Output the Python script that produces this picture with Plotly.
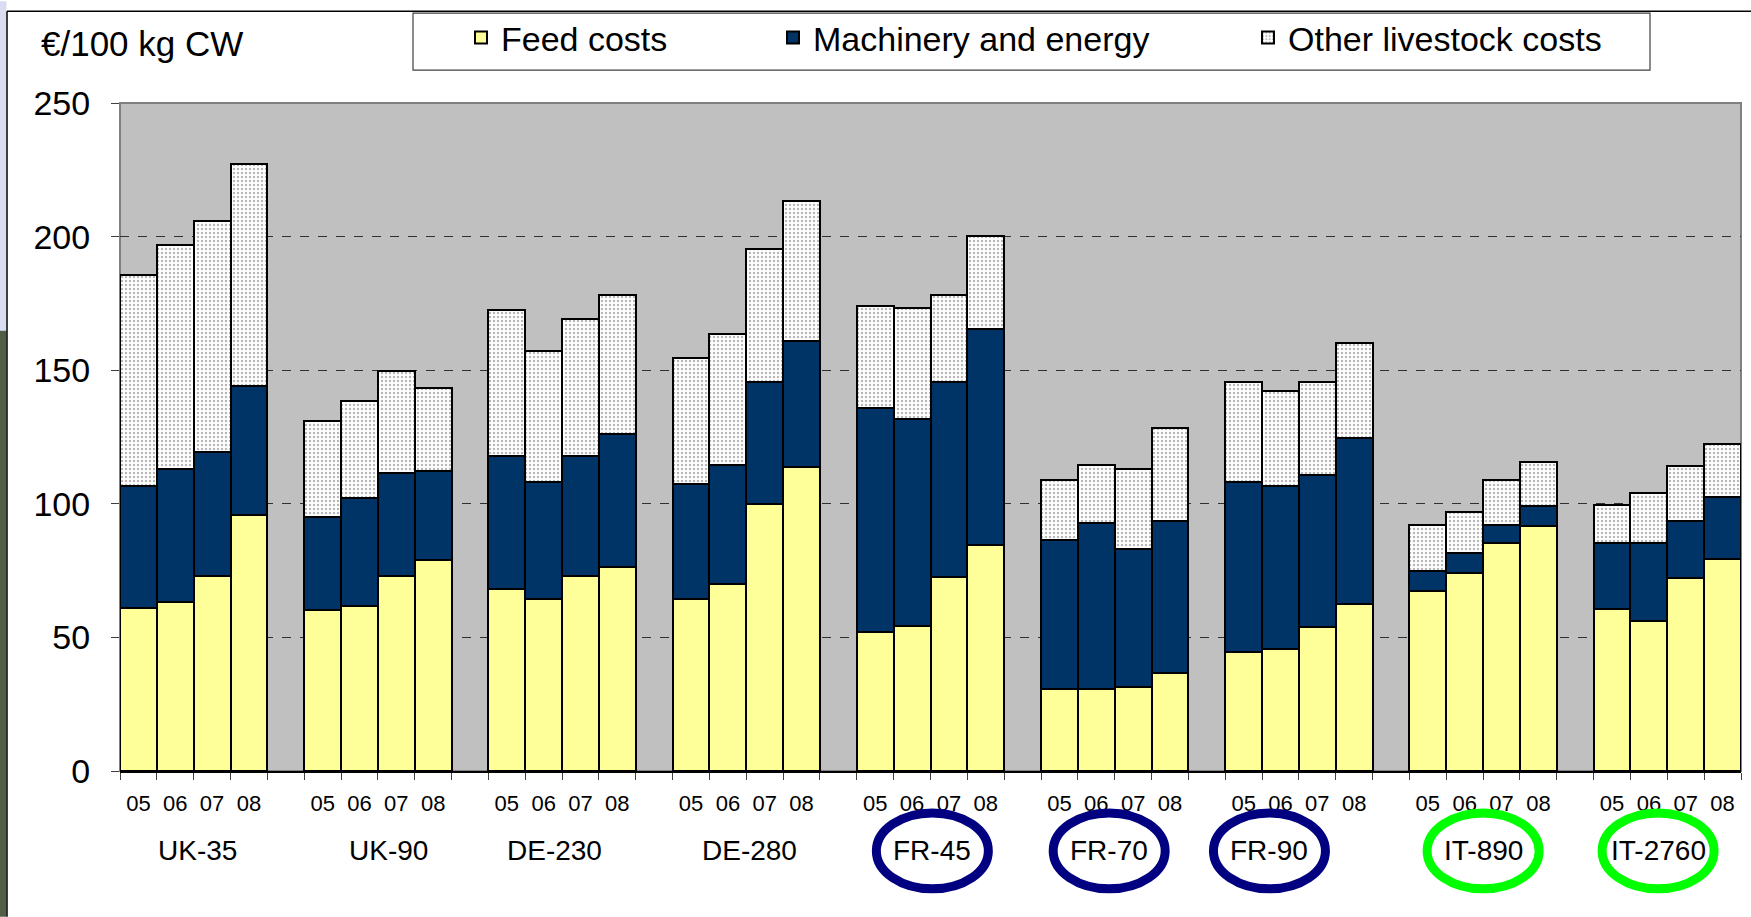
import plotly.graph_objects as go

# ---------------- data ----------------
groups = ["UK-35", "UK-90", "DE-230", "DE-280", "FR-45", "FR-70", "FR-90", "IT-890", "IT-2760"]
years = ["05", "06", "07", "08"]

feed_costs = [
    60.9, 63.4, 73.1, 95.8,     # UK-35
    60.1, 61.8, 73.1, 78.8,     # UK-90
    68.3, 64.4, 73.1, 76.5,     # DE-230
    64.3, 70.1, 100.0, 113.9,   # DE-280
    51.9, 54.3, 72.5, 84.5,     # FR-45
    30.7, 30.7, 31.6, 36.7,     # FR-70
    44.7, 45.7, 53.8, 62.4,     # FR-90
    67.4, 74.1, 85.5, 91.8,     # IT-890
    60.8, 56.1, 72.1, 79.5,     # IT-2760
]
machinery_energy = [
    45.8, 49.8, 46.4, 48.3,
    35.1, 40.2, 38.4, 33.6,
    49.7, 43.8, 44.9, 49.7,
    43.0, 44.6, 45.7, 47.2,
    83.8, 77.4, 73.2, 80.8,
    55.6, 62.3, 51.5, 56.8,
    63.5, 61.0, 56.9, 62.1,
    7.4, 7.4, 6.7, 7.5,
    24.7, 29.4, 21.4, 23.2,
]
other_livestock = [
    78.9, 83.6, 86.3, 83.1,
    35.7, 36.4, 38.2, 30.8,
    54.5, 48.9, 51.3, 52.1,
    47.3, 48.9, 49.8, 52.3,
    38.4, 41.6, 32.6, 34.9,
    22.7, 21.7, 30.1, 35.0,
    37.5, 35.7, 35.0, 35.8,
    17.4, 15.5, 16.8, 16.4,
    14.0, 18.7, 20.5, 19.5,
]

# groups that are circled, and ring colours
circled = {"FR-45": "#000080", "FR-70": "#000080", "FR-90": "#000080",
           "IT-890": "#00FF00", "IT-2760": "#00FF00"}
# small horizontal shifts of the group captions (category units)
label_shift = [0.1, 0.3, -0.2, 0.1, 0.05, -0.15, -0.8, 0.0, -0.25]

# ---------------- geometry helpers ----------------
slot = len(years) + 1                      # 4 bars + 1 empty slot per group
xpos = [g * slot + i for g in range(len(groups)) for i in range(len(years))]
xtext = [y for _ in groups for y in years]
xmin, xmax = -0.5, (len(groups) - 1) * slot + len(years) - 0.5
boundaries = [k - 0.5 for k in range(int(xmax + 1.5))]

FONT = "Liberation Sans, Arial, sans-serif"
W, H = 1751, 917
ML, MR, MT, MB = 120, 10, 102, 146
PW, PH = W - ML - MR, H - MT - MB


def px_x(p):   # pixel -> paper x
    return (p - ML) / PW


def px_y(p):   # pixel -> paper y
    return (H - MB - p) / PH


fig = go.Figure()

line = dict(color="black", width=2)
fig.add_trace(go.Bar(x=xpos, y=feed_costs, name="Feed costs", width=1,
                     marker=dict(color="#FFFF99", line=line), legend="legend"))
fig.add_trace(go.Bar(x=xpos, y=machinery_energy, name="Machinery and energy", width=1,
                     marker=dict(color="#003366", line=line), legend="legend2"))
fig.add_trace(go.Bar(x=xpos, y=other_livestock, name="Other livestock costs", width=1,
                     marker=dict(color="#FFFFFF", line=line,
                                 pattern=dict(shape=".", fgcolor="#707070", bgcolor="#FFFFFF",
                                              size=4, solidity=0.3)),
                     legend="legend3"))

shapes = []
# plot border (grey), above grid, below bars
shapes.append(dict(type="rect", xref="paper", yref="paper", x0=0, x1=1, y0=0, y1=1,
                   line=dict(color="#808080", width=2), layer="between"))
# slide decorations: left photo strip, frame lines
shapes.append(dict(type="rect", xref="paper", yref="paper", x0=px_x(0), x1=px_x(6.5),
                   y0=px_y(0), y1=px_y(330), fillcolor="#DADDF2", line=dict(width=0)))
shapes.append(dict(type="rect", xref="paper", yref="paper", x0=px_x(0), x1=px_x(6.5),
                   y0=px_y(330), y1=px_y(917), fillcolor="#4F5E45", line=dict(width=0)))
shapes.append(dict(type="line", xref="paper", yref="paper", x0=px_x(7), x1=px_x(7),
                   y0=px_y(10), y1=px_y(917), line=dict(color="black", width=1.5)))
shapes.append(dict(type="line", xref="paper", yref="paper", x0=px_x(7), x1=px_x(1751),
                   y0=px_y(10), y1=px_y(10), line=dict(color="black", width=1.5)))
# legend box
shapes.append(dict(type="rect", xref="paper", yref="paper", x0=px_x(413), x1=px_x(1650),
                   y0=px_y(69), y1=px_y(12), fillcolor="white",
                   line=dict(color="#404040", width=1.2)))

annotations = []
for g, name in enumerate(groups):
    cx = g * slot + (len(years) - 1) / 2 + label_shift[g]
    annotations.append(dict(x=cx, y=px_y(851), xref="x", yref="paper", text=name,
                            showarrow=False, xanchor="center", yanchor="middle",
                            font=dict(family=FONT, size=28, color="black")))
    if name in circled:
        half = 1.52
        shapes.append(dict(type="circle", xref="x", yref="paper",
                           x0=cx - half, x1=cx + half, y0=px_y(889), y1=px_y(813),
                           line=dict(color=circled[name], width=9), layer="above"))

annotations.append(dict(x=px_x(39), y=px_y(42), xref="paper", yref="paper",
                        text="€/100 kg CW", showarrow=False, xanchor="left", yanchor="middle",
                        font=dict(family=FONT, size=35, color="black")))

leg_common = dict(orientation="h", yanchor="middle", y=px_y(38), xanchor="left",
                  bgcolor="rgba(0,0,0,0)", borderwidth=0,
                  font=dict(family=FONT, size=34, color="black"))

fig.update_layout(
    width=W, height=H,
    margin=dict(l=ML, r=MR, t=MT, b=MB),
    paper_bgcolor="white",
    plot_bgcolor="#C0C0C0",
    barmode="stack",
    bargap=0,
    showlegend=True,
    legend=dict(x=px_x(461), **leg_common),
    legend2=dict(x=px_x(773), **leg_common),
    legend3=dict(x=px_x(1248), **leg_common),
    shapes=shapes,
    annotations=annotations,
    xaxis=dict(range=[xmin, xmax], tickmode="array", tickvals=xpos, ticktext=xtext,
               ticks="", showgrid=False, zeroline=False,
               showline=True, linecolor="black", linewidth=2,
               ticklabelstandoff=12,
               tickfont=dict(family=FONT, size=22, color="black"),
               minor=dict(tickmode="array", tickvals=boundaries, ticks="outside",
                          ticklen=7, tickcolor="#404040", tickwidth=1, showgrid=False)),
    yaxis=dict(range=[0, 250], dtick=50, ticks="outside", ticklen=8, tickcolor="#404040",
               showline=False, zeroline=False,
               showgrid=True, gridcolor="#303030", gridwidth=1, griddash="dash",
               ticklabelstandoff=14,
               tickfont=dict(family=FONT, size=34, color="black")),
)

fig.write_html("out.html", config={"displayModeBar": False},
               post_script="document.body.style.margin='0px';")
